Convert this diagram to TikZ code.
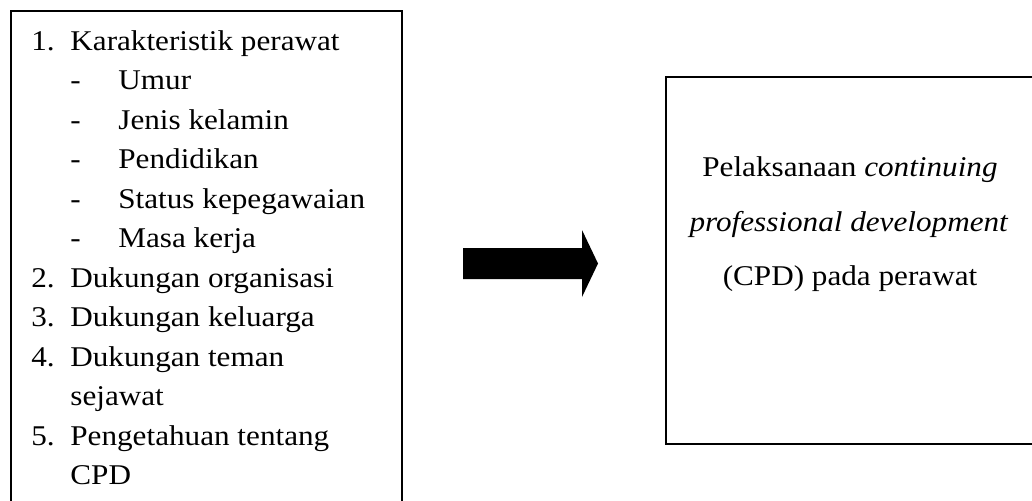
\documentclass[tikz,border=0pt]{standalone}
\usepackage{fontspec}
\setmainfont{Liberation Serif}
\newfontfamily\widefont[FakeStretch=1.09]{Liberation Serif}
\tikzset{
    box/.style={line width=1.1pt},
    item/.style={anchor=base west, inner sep=0pt, font=\widefont\fontsize{14.3}{16}\selectfont},
    result/.style={anchor=base, inner sep=0pt, font=\widefont\fontsize{14.3}{16}\selectfont}
}
\begin{document}
\begin{tikzpicture}[x=0.5pt,y=-0.5pt]
    \useasboundingbox (0,0) rectangle (1032,500);
    \clip (0,0) rectangle (1032,500);
    %draw boxes
    \draw [box] (11,11) rectangle (402,530);
    \draw [box] (666,77) rectangle (1045,444);
    %draw list of factors
    \foreach \i/\y/\txt in {1/50/Karakteristik perawat,2/287/Dukungan organisasi,3/326.5/Dukungan keluarga,4/366/Dukungan teman,5/445/Pengetahuan tentang}
        {%
            \node [item] (n\i) at (31,\y) {\i.};
            \node [item] (t\i) at (70,\y) {\txt};
        }
    \foreach \j/\y/\txt in {1/89.5/Umur,2/129/Jenis kelamin,3/168.5/Pendidikan,4/208/Status kepegawaian,5/247.5/Masa kerja}
        {%
            \node [item] (d\j) at (70,\y) {-};
            \node [item] (s\j) at (118,\y) {\txt};
        }
    \node [item] (t4b) at (70,405.5) {sejawat};
    \node [item] (t5b) at (70,484.5) {CPD};
    %draw arrow
    \fill (463,248) -- (582,248) -- (582,230) -- (598,263.5) -- (582,297) -- (582,279) -- (463,279) -- cycle;
    %draw result
    \node [result] (cpd1) at (850,176) {Pelaksanaan \textit{continuing}};
    \node [result] (cpd2) at (849,231) {\textit{professional development}};
    \node [result] (cpd3) at (850,285) {(CPD) pada perawat};
\end{tikzpicture}
\end{document}
